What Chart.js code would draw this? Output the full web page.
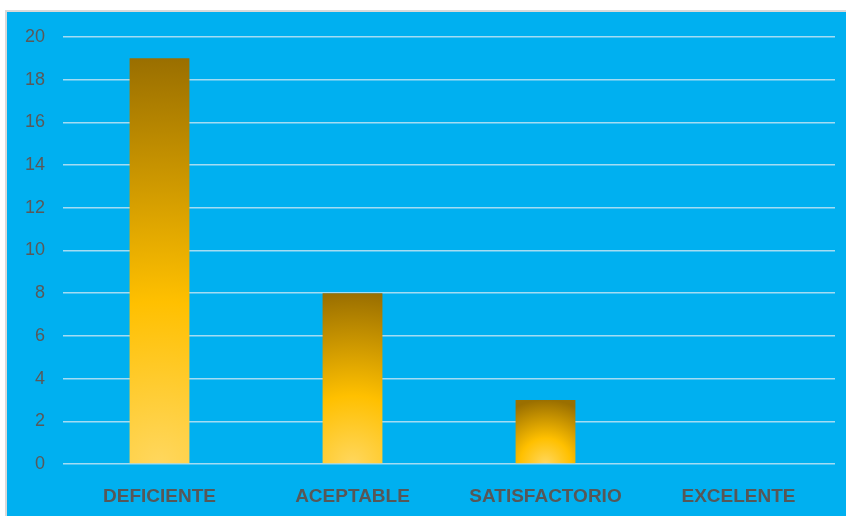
<!DOCTYPE html>
<html>
<head>
<meta charset="utf-8">
<script src="https://cdn.jsdelivr.net/npm/chart.js@4/dist/chart.umd.min.js"></script>
<style>
  html, body { margin: 0; padding: 0; background: #fff; }
  body { width: 846px; height: 516px; position: relative; overflow: hidden; }
  #frame { position: absolute; left: 5px; top: 10px; width: 850px; height: 520px;
    border-left: 2px solid #d9d9d9; border-top: 2px solid #d9d9d9; background: #00b0f0; }
  #wrap { position: absolute; left: 0; top: 0; width: 846px; height: 516px; }
</style>
</head>
<body>
<div id="frame"></div>
<div id="wrap"><canvas id="chart" width="846" height="516"></canvas></div>
<script>
// ---- data ----
const CATEGORIES = ['DEFICIENTE', 'ACEPTABLE', 'SATISFACTORIO', 'EXCELENTE'];
const VALUES = [19, 8, 3, 0];
const Y_MIN = 0, Y_MAX = 20, Y_STEP = 2;

// Excel-style gold gradient, light at the bar foot, dark at the far edge
function barFill(ctx) {
  const chart = ctx.chart;
  const { x, y } = chart.scales;
  if (!x || !y || ctx.type !== 'data') return '#ffc000';
  const cx = x.getPixelForValue(ctx.dataIndex);
  const base = y.getPixelForValue(0);
  const top = y.getPixelForValue(ctx.raw);
  if (![cx, base, top].every(Number.isFinite)) return '#ffc000';
  const r = Math.max(base - top, 1);
  const g = chart.ctx.createRadialGradient(cx, base, 0, cx, base, r);
  g.addColorStop(0, '#ffd75e');
  g.addColorStop(0.4, '#ffc000');
  g.addColorStop(1, '#9a6f00');
  return g;
}

new Chart(document.getElementById('chart'), {
  type: 'bar',
  data: {
    labels: CATEGORIES,
    datasets: [{ data: VALUES, backgroundColor: barFill, borderWidth: 0,
      categoryPercentage: 1, barPercentage: 0.31 }],
  },
  options: {
    responsive: false, animation: false,
    layout: { padding: { left: 0, right: 11, top: 37, bottom: 0 } },
    plugins: { legend: { display: false }, tooltip: { enabled: false } },
    scales: {
      x: {
        grid: { display: false, drawTicks: false }, border: { display: false },
        ticks: { color: '#575757', padding: 21, font: { family: 'Liberation Sans', size: 19, weight: 'bold' } },
        afterFit: s => { s.height = 52; },
      },
      y: {
        min: Y_MIN, max: Y_MAX,
        grid: { color: '#a3dcf3', lineWidth: 1.5, drawTicks: false }, border: { display: false },
        ticks: { stepSize: Y_STEP, color: '#595959', padding: 18, font: { family: 'Liberation Sans', size: 18 } },
        afterFit: s => { s.width = 63; },
      },
    },
  },
});
</script>
</body>
</html>
